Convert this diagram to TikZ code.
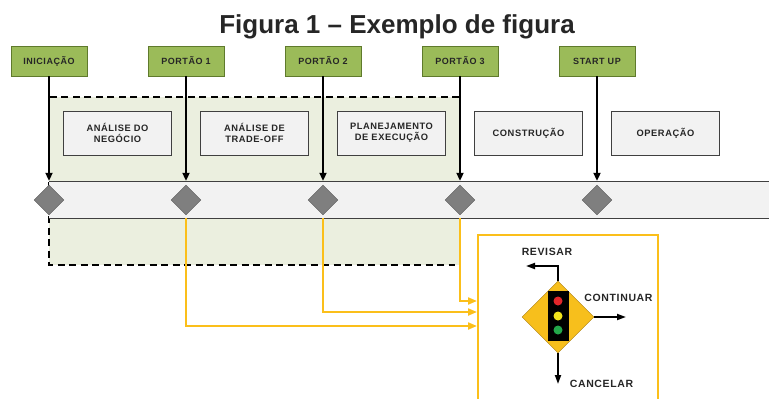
\documentclass[tikz,border=0pt]{standalone}
\usepackage{fontspec}
\setmainfont{Liberation Sans}
\newfontfamily\lblfont[LetterSpace=6]{Liberation Sans}
\usetikzlibrary{positioning,shapes.geometric,arrows.meta}
\definecolor{gatefill}{HTML}{9BBB59}
\definecolor{gateline}{HTML}{5F7A2C}
\definecolor{scopefill}{HTML}{EBEFDF}
\definecolor{boxfill}{HTML}{F2F2F2}
\definecolor{boxline}{HTML}{404040}
\definecolor{stonefill}{HTML}{7F7F7F}
\definecolor{stoneline}{HTML}{5A5A5A}
\definecolor{feedyellow}{HTML}{FBBF1A}
\definecolor{lightfill}{HTML}{F7BF1C}
\definecolor{lightline}{HTML}{A87E10}
\definecolor{lampred}{HTML}{E3262A}
\definecolor{lampamber}{HTML}{F2E41C}
\definecolor{lampgreen}{HTML}{23A84A}
\begin{document}
\begin{tikzpicture}[x=1pt, y=-1pt,
    gate/.style={draw=gateline, fill=gatefill, line width=0.9pt, minimum width=76pt, minimum height=30pt,
      inner sep=0pt, font=\lblfont\bfseries\fontsize{9}{10.5}\selectfont, text=black!85},
    phase/.style={draw=boxline, fill=boxfill, line width=0.9pt, minimum width=108pt, minimum height=44pt,
      inner sep=0pt, align=center, font=\lblfont\bfseries\fontsize{9.3}{10.7}\selectfont, text=black!85},
    stone/.style={diamond, draw=stoneline, fill=stonefill, minimum width=30pt, minimum height=30pt, inner sep=0pt},
    gatearrow/.style={line width=2pt, -{Triangle[length=8pt,width=7pt]}},
    feed/.style={draw=feedyellow, line width=2pt, -{Triangle[length=9pt,width=7pt]}},
    outarrow/.style={line width=1.8pt, -{Triangle[length=9pt,width=6pt]}},
    outlbl/.style={font=\lblfont\bfseries\fontsize{10.5}{12}\selectfont, text=black!85, inner sep=0pt},
    lamp/.style={circle, minimum size=9pt, inner sep=0pt}]
  \useasboundingbox (0,0) rectangle (769,399);
  % Title
  \node (title) [anchor=base, font=\bfseries\fontsize{26}{30}\selectfont, text=black!85] at (397,33) {Figura 1 -- Exemplo de figura};
  % Scope of the first gates
  \fill[scopefill] (49,97) rectangle (459,265);
  \draw[line width=2pt, dash pattern=on 7pt off 4.5pt] (459,97) -- (49,97) -- (49,265) -- (455,265);
  % Band
  \fill[boxfill] (49,181) rectangle (769,218);
  \draw[boxline, line width=1pt] (49,181) -- (769,181) (49,218) -- (769,218);
  \coordinate (bandbot) at (0,218);
  % Gates and milestones
  \foreach \lbl [count=\i from 0] in {INICIAÇÃO, PORTÃO 1, PORTÃO 2, PORTÃO 3, START UP} {
    \node (g\i) [gate] at (49+137*\i,61) {\lbl};
    \node (m\i) [stone] at (49+137*\i,200) {};
    \draw[gatearrow] (g\i) -- ([yshift=4pt]m\i.north);
  }
  % Phases
  \foreach \lbl [count=\i from 0] in {{ANÁLISE DO\\NEGÓCIO}, {ANÁLISE DE\\TRADE-OFF},
      {PLANEJAMENTO\\DE EXECUÇÃO}, CONSTRUÇÃO, OPERAÇÃO} {
    \node (p\i) [phase] at (117.5+137*\i,133) {\lbl};
  }
  % Decision box
  \draw[feedyellow, line width=2pt] (478,399) |- (658,235) -- (658,399);
  \coordinate (in3) at (477,301);
  \coordinate (in2) at (477,312);
  \coordinate (in1) at (477,326);
  \draw[feed] (m3 |- bandbot) |- (in3);
  \draw[feed] (m2 |- bandbot) |- (in2);
  \draw[feed] (m1 |- bandbot) |- (in1);
  % Traffic light
  \node (light) [diamond, draw=lightline, fill=lightfill, minimum width=72pt, minimum height=72pt, inner sep=0pt] at (558,317) {};
  \node (housing) [fill=black, minimum width=21pt, minimum height=50pt, inner sep=0pt] at (558,316) {};
  \node (red) [lamp, fill=lampred] at (558,301) {};
  \node (amber) [lamp, fill=lampamber] at (558,316) {};
  \node (green) [lamp, fill=lampgreen] at (558,330) {};
  \coordinate (rev) at (526,266);
  \coordinate (cont) at (626,317);
  \coordinate (canc) at (558,384);
  \draw[outarrow] (light.north) |- (rev);
  \draw[outarrow] (light.east) -- (cont);
  \draw[outarrow] (light.south) -- (canc);
  \node (revlbl) [outlbl] at (547,252) {REVISAR};
  \node (contlbl) [outlbl] at (618.5,298) {CONTINUAR};
  \node (canclbl) [outlbl] at (601.5,384) {CANCELAR};
\end{tikzpicture}
\end{document}
